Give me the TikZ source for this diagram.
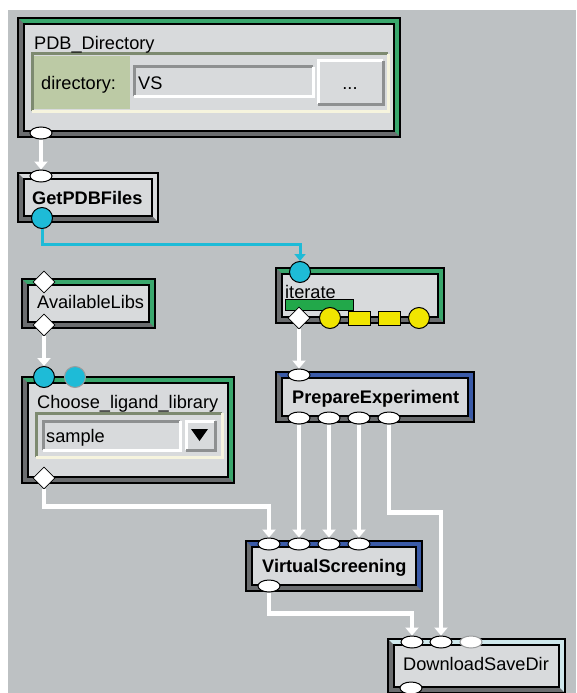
\documentclass[tikz,border=0pt]{standalone}
\usepackage{fontspec}
\setmainfont{Liberation Sans}
\usepackage{tikz}
\usetikzlibrary{arrows.meta,calc,positioning,shapes.geometric}

\definecolor{bggray}{HTML}{BDC1C3}
\definecolor{panel}{HTML}{D8DADC}
\definecolor{shadowgray}{HTML}{6B6D6F}
\definecolor{midgray}{HTML}{8E9091}
\definecolor{portgray}{HTML}{9A9C9D}
\definecolor{modgreen}{HTML}{3AA76D}
\definecolor{modblue}{HTML}{3B5BA8}
\definecolor{modcyan}{HTML}{CFE8EC}
\definecolor{olive}{HTML}{7D8A70}
\definecolor{cream}{HTML}{F6F4DE}
\definecolor{sage}{HTML}{BCCAA5}
\definecolor{wirecyan}{HTML}{1EBBD7}
\definecolor{portyellow}{HTML}{F0E500}
\definecolor{bargreen}{HTML}{22A84A}

% module frame: x1,y1,x2,y2,band colour
\newcommand{\module}[5]{%
  \fill[#5] (#1,#2) rectangle (#3,#4);
  \fill[shadowgray] (#1,#2) -- ++(6,6) |- ([shift={(-6,-6)}]#3,#4) -- (#3,#4) -- (#1,#4) -- cycle;
  \draw[line width=1.3pt, fill=panel] ([shift={(6,6)}]#1,#2) rectangle ([shift={(-6,-6)}]#3,#4);
  \draw[line width=1.5pt] (#1,#2) rectangle (#3,#4);
}
% bevelled field: x1,y1,x2,y2,fill,top-left,bottom-right
\newcommand{\inset}[7]{%
  \fill[#5] (#1,#2) rectangle (#3,#4);
  \draw[#6, line width=3pt] (#1,#4) -- (#1,#2) -- (#3,#2);
  \draw[#7, line width=3pt] (#3,#2) -- (#3,#4) -- (#1,#4);
}

\tikzset{
  lbl/.style={anchor=base west, inner sep=0, font=\fontsize{18.2}{21}\selectfont},
  blbl/.style={lbl, font=\fontsize{18.2}{21}\selectfont\bfseries},
  oport/.style={ellipse, draw=black, fill=white, line width=1pt, minimum width=22pt, minimum height=12pt, inner sep=0},
  dport/.style={diamond, draw=black, fill=white, line width=0.8pt, minimum width=22pt, minimum height=22pt, inner sep=0},
  cport/.style={circle, draw=black, fill=wirecyan, line width=1pt, minimum size=21pt, inner sep=0},
  yport/.style={circle, draw=black, fill=portyellow, line width=1pt, minimum size=21pt, inner sep=0},
  ybox/.style={rectangle, draw=black, fill=portyellow, line width=1pt, minimum width=22pt, minimum height=14pt, inner sep=0},
  wire/.style={draw=white, line width=4.5pt, -{Triangle[width=13pt,length=8pt]}},
  cwire/.style={draw=wirecyan, line width=3pt, -{Triangle[width=11pt,length=7pt]}}
}

\begin{document}
\begin{tikzpicture}[x=1pt,y=-1pt]
  \useasboundingbox (0,0) rectangle (576,693);
  \fill[white] (0,0) rectangle (576,693);
  \fill[bggray] (8,10) rectangle (576,693);

  % modules
  \module{18}{18}{400}{137}{modgreen}
  \module{18}{173}{158}{222}{panel}
  \module{22}{279}{155}{328}{modgreen}
  \module{22}{377}{234}{483}{modgreen}
  \module{276}{268}{444}{323}{modgreen}
  \module{276}{372}{474}{422}{modblue}
  \module{246}{541}{422}{591}{modblue}
  \module{388}{639}{565}{693}{modcyan}

  % PDB_Directory widgets
  \inset{32}{54}{388}{111}{panel}{olive}{cream}
  \fill[sage] (34,56) rectangle (130,109);
  \inset{134}{67}{313}{96}{panel}{midgray}{white}
  \inset{318}{61}{383}{104}{panel}{white}{midgray}

  % Choose_ligand_library widgets
  \inset{36}{413}{222}{457}{panel}{olive}{cream}
  \inset{43}{421}{180}{450}{panel}{midgray}{white}
  \inset{186}{421}{215}{450}{panel}{white}{midgray}
  \fill (191,429) -- (208,429) -- (199.5,441) -- cycle;

  % iterate bar
  \draw[fill=bargreen, line width=1pt] (285,299) rectangle (353,310);

  % labels
  \node[lbl] (pdbname) at (34,49) {PDB\_Directory};
  \node[lbl] (dirlbl) at (41,89) {directory:};
  \node[lbl] (dirval) at (138,89) {VS};
  \node[lbl, anchor=base] (dirbtn) at (350,89) {...};
  \node[blbl] (gpname) at (32,204) {GetPDBFiles};
  \node[lbl] (avname) at (37,308) {AvailableLibs};
  \node[lbl] (chname) at (37,408) {Choose\_ligand\_library};
  \node[lbl] (chval) at (46,442) {sample};
  \node[lbl] (itname) at (285,298) {iterate};
  \node[blbl] (ppname) at (292,403) {PrepareExperiment};
  \node[blbl] (vsname) at (262,572) {VirtualScreening};
  \node[lbl] (dsname) at (403,670) {DownloadSaveDir};

  % ports
  \node[oport] (pdbout) at (41,133) {};
  \node[oport] (gpin) at (41,176) {};
  \node[cport] (gpout) at (42,218) {};
  \node[dport] (avin) at (44,282) {};
  \node[dport] (avout) at (44,325) {};
  \node[cport] (chin) at (44,377) {};
  \node[cport, draw=portgray] (chin2) at (75,377) {};
  \node[dport] (chout) at (44,478) {};
  \node[cport] (itin) at (300,272) {};
  \node[dport] (itout) at (299,318) {};
  \node[yport] (ity1) at (330,318) {};
  \node[ybox] (ity2) at (359,318) {};
  \node[ybox] (ity3) at (389,318) {};
  \node[yport] (ity4) at (419,318) {};
  \node[oport] (ppin) at (299,375) {};
  \node[oport] (ppout1) at (299,418) {};
  \node[oport] (ppout2) at (329,418) {};
  \node[oport] (ppout3) at (359,418) {};
  \node[oport] (ppout4) at (389,418) {};
  \node[oport] (vsin1) at (269,544) {};
  \node[oport] (vsin2) at (299,544) {};
  \node[oport] (vsin3) at (329,544) {};
  \node[oport] (vsin4) at (359,544) {};
  \node[oport] (vsout) at (269,586) {};
  \node[oport] (dsin1) at (412,642) {};
  \node[oport] (dsin2) at (441,642) {};
  \node[oport, draw=portgray] (dsin3) at (471,642) {};
  \node[oport] (dsout) at (411,688) {};

  % connections
  \draw[cwire] (gpout.south) -- ++(0,15) -| (itin.north);
  \draw[wire] (pdbout.south) -- (gpin.north);
  \draw[wire] (avout.south) -- (chin.north);
  \draw[wire] (itout.south) -- (ppin.north);
  \draw[wire] (ppout1.south) -- (vsin2.north);
  \draw[wire] (ppout2.south) -- (vsin3.north);
  \draw[wire] (ppout3.south) -- (vsin4.north);
  \draw[wire] (ppout4.south) -- ++(0,88) -| (dsin2.north);
  \draw[wire] (chout.south) -- ++(0,17) -| (vsin1.north);
  \draw[wire] (vsout.south) -- ++(0,21) -| (dsin1.north);
\end{tikzpicture}
\end{document}
